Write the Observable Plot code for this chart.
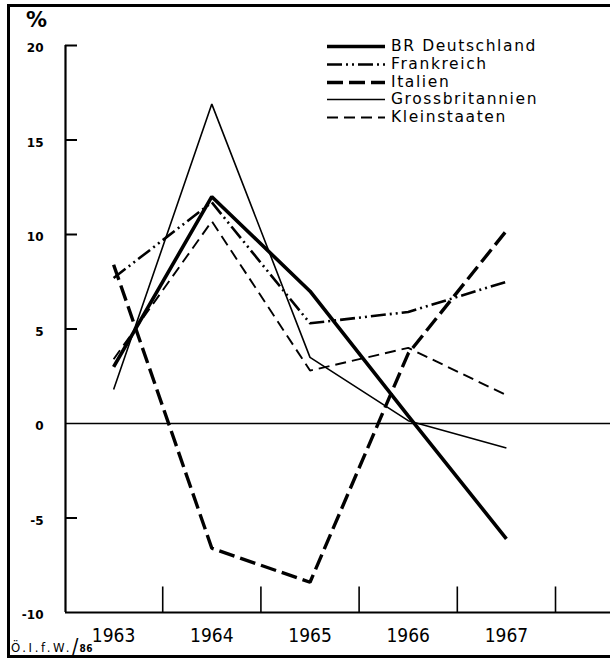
<!DOCTYPE html>
<html><head><meta charset="utf-8">
<script src="https://cdn.jsdelivr.net/npm/d3@7"></script>
<script src="https://cdn.jsdelivr.net/npm/@observablehq/plot@0.6"></script>
<style>
html,body{margin:0;background:#fff;overflow:hidden;}
#wrap{position:relative;width:610px;height:661px;overflow:hidden;background:#fff;font-family:"DejaVu Sans Condensed","DejaVu Sans",sans-serif;}
#chart{position:absolute;left:0;top:0;}
#frame{position:absolute;left:0;top:0;pointer-events:none;}
#legend{position:absolute;left:0;top:0;}
.row{position:absolute;left:327px;height:17px;display:flex;align-items:center;white-space:nowrap;}
.row span{font-family:"DejaVu Sans",sans-serif;font-size:15.5px;line-height:17px;color:#000;margin-left:6px;white-space:nowrap;letter-spacing:1.6px;}
#pct{position:absolute;left:26px;top:5px;font-family:"DejaVu Sans",sans-serif;font-weight:bold;font-size:21px;line-height:30px;}
#src{position:absolute;left:11px;top:640px;font-family:"DejaVu Sans Condensed","DejaVu Sans",sans-serif;font-size:13px;line-height:15px;white-space:nowrap;letter-spacing:2.6px;}
#src .sl{font-size:21px;vertical-align:-2px;letter-spacing:1px;}
#src .n{font-size:10px;font-weight:bold;letter-spacing:0.5px;}
</style></head>
<body>
<div id="wrap">
  <div id="chart"></div>
  <div id="pct">%</div>
  <div id="legend"></div>
  <div id="src">Ö.I.f.W.<span class="sl">/</span><span class="n">86</span></div>
  <svg id="frame" width="610" height="661">
    <path d="M8.5,658 L8.5,5.5 L610,5.5 M8.5,656.5 L610,656.5" fill="none" stroke="#000" stroke-width="3"/>
  </svg>
</div>
<script>
// ---- data ----
const years = [1963, 1964, 1965, 1966, 1967];
const deutschland     = [3.0, 12.0, 7.0, 0.4, -6.1];
const frankreich      = [7.7, 11.7, 5.3, 5.9, 7.5];
const italien         = [8.4, -6.6, -8.4, 3.7, 10.2];
const grossbritannien = [1.8, 16.9, 3.5, 0.15, -1.3];
const kleinstaaten    = [3.4, 10.7, 2.8, 4.0, 1.5];
const seriesNames = ["BR Deutschland", "Frankreich", "Italien", "Grossbritannien", "Kleinstaaten"];
const seriesValues = [deutschland, frankreich, italien, grossbritannien, kleinstaaten];
const yTickLabels = [20, 15, 10, 5, 0, -5, -10];
const yTickMarks = [20, 15, 10, 5, -5];
const xBoundaries = [1963.5, 1964.5, 1965.5, 1966.5, 1967.5];

// ---- styles ----
const styles = {
  "BR Deutschland":  {strokeWidth: 3.6, dash: null},
  "Frankreich":      {strokeWidth: 2.6, dash: "15,4,2,4,2,4"},
  "Italien":         {strokeWidth: 3.4, dash: "16,6"},
  "Grossbritannien": {strokeWidth: 1.6, dash: null},
  "Kleinstaaten":    {strokeWidth: 1.9, dash: "11,6"}
};

const xMin = 1962.51, xMax = 1968.06, yMin = -10, yMax = 20;
const pxPerYear = (610 - 65) / (xMax - xMin);
const tickLen = 12 / pxPerYear;

const lineMarks = seriesNames.map((name, k) => {
  const rows = years.map((yr, i) => ({year: yr, value: seriesValues[k][i], series: name}));
  const s = styles[name];
  return Plot.line(rows, {
    x: "year", y: "value", stroke: "#000",
    strokeWidth: s.strokeWidth,
    strokeDasharray: s.dash || undefined,
    strokeLinejoin: "miter", strokeLinecap: "butt"
  });
});

const chart = Plot.plot({
  width: 610, height: 661,
  marginLeft: 65, marginRight: 0, marginTop: 45, marginBottom: 49,
  style: {background: "transparent", overflow: "visible"},
  x: {type: "linear", domain: [xMin, xMax], axis: null},
  y: {type: "linear", domain: [yMin, yMax], axis: null},
  marks: [
    Plot.ruleY([0], {x1: xMin, x2: xMax, stroke: "#000", strokeWidth: 1.6}),
    Plot.ruleX([xMin], {y1: yMin, y2: yMax, stroke: "#000", strokeWidth: 2.2}),
    Plot.ruleY([yMin], {x1: xMin, x2: xMax, stroke: "#000", strokeWidth: 2.2}),
    Plot.ruleY(yTickMarks, {y: d => d, x1: xMin, x2: xMin + tickLen, stroke: "#000", strokeWidth: 2}),
    Plot.ruleX(xBoundaries, {x: d => d, y1: yMin, y2: yMin + 1.35, stroke: "#000", strokeWidth: 1.6}),
    ...lineMarks,
    Plot.text(yTickLabels, {x: xMin, y: d => d, text: d => String(d), dx: -22, dy: 3,
      textAnchor: "end", fontSize: 12, fontWeight: "bold", fontFamily: "DejaVu Sans", fill: "#000"}),
    Plot.text(years, {x: d => d, y: yMin, text: d => String(d), dy: 23,
      fontSize: 19, fontFamily: "DejaVu Sans Condensed", fill: "#000"})
  ]
});
document.getElementById("chart").appendChild(chart);

// ---- legend ----
const legend = document.getElementById("legend");
const rowY = [46, 64, 82, 99, 117];
seriesNames.forEach((name, i) => {
  const s = styles[name];
  const row = document.createElement("div");
  row.className = "row";
  row.style.top = (rowY[i] - 8.5) + "px";
  const svgNS = "http://www.w3.org/2000/svg";
  const svg = document.createElementNS(svgNS, "svg");
  svg.setAttribute("width", 58); svg.setAttribute("height", 17);
  const ln = document.createElementNS(svgNS, "line");
  ln.setAttribute("x1", 0); ln.setAttribute("x2", 58);
  ln.setAttribute("y1", 8.5); ln.setAttribute("y2", 8.5);
  ln.setAttribute("stroke", "#000");
  ln.setAttribute("stroke-width", s.strokeWidth);
  if (s.dash) ln.setAttribute("stroke-dasharray", s.dash);
  svg.appendChild(ln);
  row.appendChild(svg);
  const t = document.createElement("span");
  t.textContent = name;
  row.appendChild(t);
  legend.appendChild(row);
});
</script>
</body></html>
